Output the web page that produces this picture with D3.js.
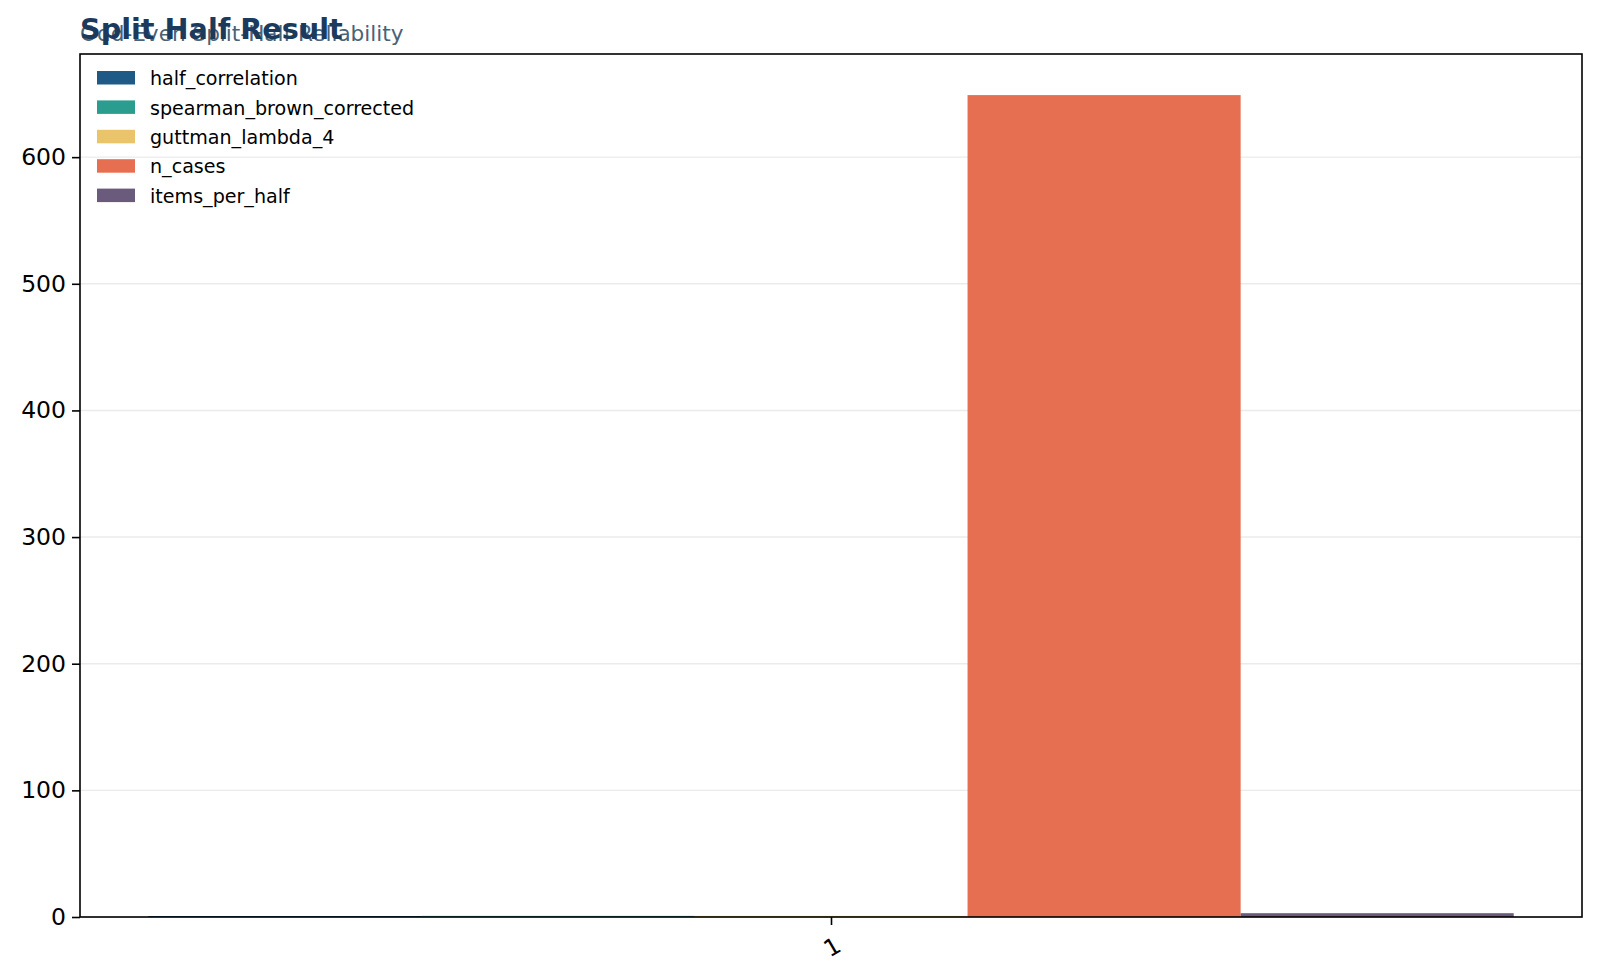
<!DOCTYPE html>
<html>
<head>
<meta charset="utf-8">
<script src="https://cdn.jsdelivr.net/npm/d3@7"></script>
<style>
  body { margin: 0; background: #fff; }
  text { font-family: "DejaVu Sans", sans-serif; }
</style>
</head>
<body>
<svg id="chart" width="1600" height="978"></svg>
<script>
// data
const categories = ["1"];
const seriesNames = ["half_correlation", "spearman_brown_corrected", "guttman_lambda_4", "n_cases", "items_per_half"];
const seriesColors = ["#1f5a87", "#2a9d8f", "#e9c46a", "#e76f51", "#6a5a7b"];
const seriesValues = [
    [0.78],
    [0.876],
    [0.87],
    [649],
    [3]
];
const yTicks = [0, 100, 200, 300, 400, 500, 600];

const margin = {top: 54, right: 18, bottom: 61, left: 80};
const width = 1600 - margin.left - margin.right;
const height = 978 - margin.top - margin.bottom;

const svg = d3.select("#chart");
const g = svg.append("g").attr("transform", `translate(${margin.left},${margin.top})`);

// matplotlib-like: group of width 0.8 around each category index, 5% margins
const nSeries = seriesNames.length;
const barW = 0.8 / nSeries;
const x = d3.scaleLinear()
    .domain([-0.44, categories.length - 1 + 0.44])
    .range([0, width]);

const maxVal = d3.max(seriesValues.flat());
const y = d3.scaleLinear()
    .domain([0, maxVal * 1.05])
    .range([height, 0]);

// grid
g.append("g")
    .selectAll("line")
    .data(yTicks)
    .enter()
    .append("line")
    .attr("x1", 0)
    .attr("x2", width)
    .attr("y1", d => y(d))
    .attr("y2", d => y(d))
    .attr("stroke", "#ebebeb")
    .attr("stroke-width", 1.4);

// bars
seriesNames.forEach((name, s) => {
    g.append("g")
        .selectAll("rect")
        .data(seriesValues[s])
        .enter()
        .append("rect")
        .attr("x", (d, i) => x(i - 0.4 + s * barW))
        .attr("width", x(barW) - x(0))
        .attr("y", d => y(d))
        .attr("height", d => y(0) - y(d))
        .attr("fill", seriesColors[s]);
});

// y axis
const yAxis = g.append("g")
    .call(d3.axisLeft(y).tickValues(yTicks).tickSize(8).tickPadding(6).tickFormat(d3.format("d")));
yAxis.select(".domain").remove();
yAxis.selectAll("line").attr("stroke", "#000").attr("stroke-width", 1.6);
yAxis.selectAll("text").attr("font-size", 23.5).attr("fill", "#000");

// x axis
const xAxis = g.append("g")
    .attr("transform", `translate(0,${height})`)
    .call(d3.axisBottom(x).tickValues(categories.map((c, i) => i)).tickFormat((d, i) => categories[i]).tickSize(8).tickPadding(6));
xAxis.select(".domain").remove();
xAxis.selectAll("line").attr("stroke", "#000").attr("stroke-width", 1.6);
xAxis.selectAll("text")
    .attr("font-size", 23.5)
    .attr("fill", "#000")
    .attr("text-anchor", "end")
    .attr("dy", "0.35em")
    .attr("transform", "translate(0,14) rotate(-30)");

// frame
g.append("rect")
    .attr("width", width)
    .attr("height", height)
    .attr("fill", "none")
    .attr("stroke", "#000")
    .attr("stroke-width", 1.6);

// legend
const legend = g.append("g").attr("transform", "translate(17,17)");
seriesNames.forEach((name, s) => {
    const row = legend.append("g").attr("transform", `translate(0,${s * 29.4})`);
    row.append("rect")
        .attr("width", 38)
        .attr("height", 13.5)
        .attr("fill", seriesColors[s]);
    row.append("text")
        .attr("x", 53)
        .attr("y", 7.5)
        .attr("dy", "0.35em")
        .attr("font-size", 19.1)
        .attr("fill", "#000")
        .text(name);
});

// titles
svg.append("text")
    .attr("x", margin.left)
    .attr("y", 41)
    .attr("font-size", 21.6)
    .attr("fill", "#4a6278")
    .text("Odd-Even Split-Half Reliability");
svg.append("text")
    .attr("x", margin.left)
    .attr("y", 39)
    .attr("font-size", 28.7)
    .attr("font-weight", "bold")
    .attr("fill", "#1b3a5c")
    .text("Split Half Result");
</script>
</body>
</html>
